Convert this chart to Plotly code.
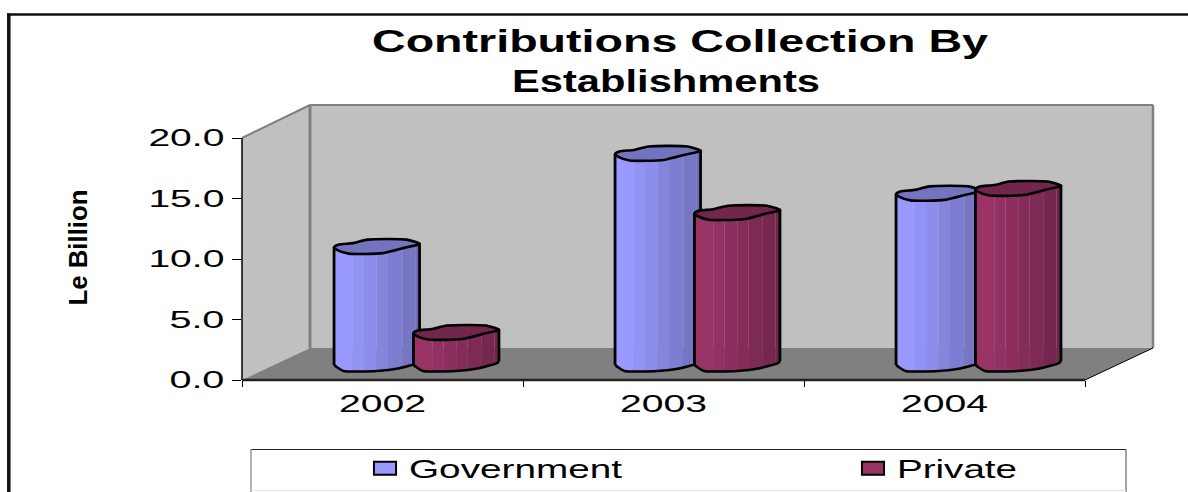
import json

import numpy as np
import plotly.graph_objects as go

# Chart content
title_lines = ["Contributions Collection By", "Establishments"]
axis_title = "Le Billion"
categories = ["2002", "2003", "2004"]
government = [9.7, 17.4, 14.1]
private = [2.6, 12.5, 14.5]
value_ticks = [0, 5, 10, 15, 20]
value_labels = ["0.0", "5.0", "10.0", "15.0", "20.0"]

# Page geometry, in pixels
W, H = 1188, 492
FRONT_L, FRONT_R, FRONT_Y, TOP20_Y = 242, 1085, 380, 138
DEPTH_X, DEPTH_Y = 68, 32
PX_PER_CAT = (FRONT_R - FRONT_L) / 3
PX_PER_UNIT = (FRONT_Y - TOP20_Y) / 20
BACK_TOP = 105
PLOT_R = FRONT_R + DEPTH_X


def px(x):
    return x / W


def py(y):
    return 1 - y / H


def polygon(points, fill, line=None, width=0):
    path = "M" + "L".join(f"{px(x):.5f},{py(y):.5f}" for x, y in points) + "Z"
    return dict(type="path", xref="paper", yref="paper", path=path, fillcolor=fill,
                line=dict(color=line or fill, width=width), layer="below")


def segment(x0, y0, x1, y1, color, width):
    return dict(type="line", xref="paper", yref="paper", x0=px(x0), y0=py(y0),
                x1=px(x1), y1=py(y1), line=dict(color=color, width=width), layer="below")


# Cylinder cross-section: u runs across the width, v is a pixel offset
TOP_LOWER_U, TOP_LOWER_V = [0, .04, .17, .57, .83, 1], [.5, 3.5, 7, 6.5, 1, -2.5]
TOP_UPPER_U, TOP_UPPER_V = [1, .85, .39, .22, .05, 0], [-3, -7, -7, -3.5, -2, .5]
BASE_U, BASE_V = [0, .04, .11, .5, .75, .98, 1], [1, 3.5, 7, 7, 4.5, -1, -3]
STRIP_EDGES = [0, .22, .35, .5, .63, .8, .95, 1]
STRIP_SHADES = [1, .96, .92, .87, .82, .77, .72]
CYL_WIDTH, CYL_OFFSET = 85.5, 39.7
OUTLINE = dict(color="black", width=2.8)
ROUNDED = dict(color="black", width=2.6, shape="spline", smoothing=0.6)


def shade(rgb, k):
    return "rgb({},{},{})".format(*[round(c * k) for c in rgb])


def cylinder(category_index, value, side, rgb):
    """Traces for one cylinder, placed through the axis coordinates."""
    centre = category_index + (DEPTH_X / 2 + side * CYL_OFFSET) / PX_PER_CAT
    floor = DEPTH_Y / 2 / PX_PER_UNIT

    def xs(u):
        return [centre + (a - .5) * CYL_WIDTH / PX_PER_CAT for a in u]

    def ys(level, v):
        return [level + floor - b / PX_PER_UNIT for b in v]

    traces = []
    for i, k in enumerate(STRIP_SHADES):
        a, b = STRIP_EDGES[i], STRIP_EDGES[i + 1]
        knots = [a] + [u for u in BASE_U if a < u < b] + [b]
        base = np.interp(knots, BASE_U, BASE_V).tolist()
        top = np.interp([b, a], TOP_LOWER_U, TOP_LOWER_V).tolist()
        traces.append(go.Scatter(
            x=xs(knots) + xs([b, a]), y=ys(0, base) + ys(value, top),
            mode="lines", fill="toself", fillcolor=shade(rgb, k), line=dict(width=0),
            hoverinfo="skip", showlegend=False))
    # Straight sides, rounded base, then the top face
    for u0, v0, v1 in ((0, BASE_V[0], .5), (1, BASE_V[-1], -3)):
        traces.append(go.Scatter(
            x=xs([u0, u0]), y=ys(0, [v0]) + ys(value, [v1]),
            mode="lines", line=OUTLINE, hoverinfo="skip", showlegend=False))
    traces.append(go.Scatter(
        x=xs(BASE_U), y=ys(0, BASE_V),
        mode="lines", line=ROUNDED, hoverinfo="skip", showlegend=False))
    traces.append(go.Scatter(
        x=xs(TOP_LOWER_U) + xs(TOP_UPPER_U), y=ys(value, TOP_LOWER_V) + ys(value, TOP_UPPER_V),
        mode="lines", fill="toself", fillcolor=shade(rgb, .75),
        line=ROUNDED, hoverinfo="skip", showlegend=False))
    return traces


GOV_RGB, PRI_RGB = (153, 153, 255), (153, 51, 102)
fig = go.Figure()

# Legend entries
for name, rgb in (("Government", GOV_RGB), ("Private", PRI_RGB)):
    fig.add_trace(go.Scatter(x=[None], y=[None], name=name, mode="markers",
                             marker=dict(symbol="square", size=13, color=shade(rgb, 1),
                                         line=dict(color="black", width=2))))

for i in range(len(categories)):
    for t in cylinder(i, government[i], -1, GOV_RGB) + cylinder(i, private[i], 1, PRI_RGB):
        fig.add_trace(t)

BACK_L, BACK_Y = FRONT_L + DEPTH_X, FRONT_Y - DEPTH_Y
GREY, WALL = "#808080", "#C0C0C0"
shapes = [
    # Walls and floor of the box
    polygon([(FRONT_L, TOP20_Y), (BACK_L, BACK_TOP), (BACK_L, BACK_Y), (FRONT_L, FRONT_Y)], WALL),
    polygon([(BACK_L, BACK_TOP), (PLOT_R, BACK_TOP), (PLOT_R, BACK_Y), (BACK_L, BACK_Y)], WALL),
    polygon([(FRONT_L, FRONT_Y), (BACK_L, BACK_Y), (PLOT_R, BACK_Y), (FRONT_R, FRONT_Y)], GREY),
    segment(FRONT_L, TOP20_Y, BACK_L, BACK_TOP, GREY, 2),
    segment(BACK_L, BACK_TOP, PLOT_R, BACK_TOP, GREY, 2),
    segment(BACK_L, BACK_TOP, BACK_L, BACK_Y, GREY, 3),
    segment(PLOT_R, BACK_TOP, PLOT_R, BACK_Y, GREY, 2.5),
    segment(FRONT_R, FRONT_Y, PLOT_R, BACK_Y, "black", 1),
    segment(FRONT_L, FRONT_Y, FRONT_L, TOP20_Y, "black", 1.5),
    segment(FRONT_L, FRONT_Y, FRONT_R, FRONT_Y, "#222222", 2.5),
    # Outer frame, running off the page on the right and bottom
    segment(7, 14.5, W, 14.5, "#111111", 2.5),
    segment(8.8, 13.5, 8.8, H, "#111111", 3.5),
    # Legend box
    segment(251, 449.5, 1126, 449.5, "#222222", 1.2),
    segment(251, 449, 251, H, "#808080", 1.2),
    segment(1126, 449, 1126, H, "#666666", 1.2),
    segment(251, 490.5, 1126, 490.5, "#E2E2E2", 1.2),
]

FONT = "Liberation Sans"
fig.update_layout(
    width=W, height=H, autosize=False,
    margin=dict(l=0, r=0, t=0, b=0, autoexpand=False),
    paper_bgcolor="white", plot_bgcolor="rgba(0,0,0,0)",
    shapes=shapes, hovermode=False,
    title=dict(text="<br>".join(title_lines), font=dict(family=FONT, size=31, color="black", weight="bold"),
               x=673 / W, xanchor="center", y=1 - 52 / H, yanchor="top"),
    xaxis=dict(domain=[FRONT_L / W, PLOT_R / W],
               range=[-.5, 2.5 + DEPTH_X / PX_PER_CAT], tickmode="array", tickvals=[0, 1, 2],
               ticktext=categories, ticks="", showgrid=False, zeroline=False, showline=False,
               tickfont=dict(family=FONT, size=23, color="black"), ticklabelstandoff=8,
               minor=dict(tickmode="array", tickvals=[-.5, .5, 1.5, 2.5], ticks="outside",
                          ticklen=6, tickwidth=1, tickcolor="black", showgrid=False)),
    yaxis=dict(domain=[1 - FRONT_Y / H, 1 - BACK_TOP / H],
               range=[0, (FRONT_Y - BACK_TOP) / PX_PER_UNIT], tickmode="array",
               tickvals=value_ticks, ticktext=value_labels, ticks="outside", ticklen=9,
               tickwidth=1.2, tickcolor="black", showgrid=False, zeroline=False, showline=False,
               tickfont=dict(family=FONT, size=23, color="black"), ticklabelstandoff=3,
               title=dict(text=axis_title, standoff=84,
                          font=dict(family=FONT, size=25, color="black", weight="bold"))),
    showlegend=True,
    legend=dict(orientation="h", x=px(365), xanchor="left", y=py(468.5), yanchor="middle",
                bgcolor="rgba(0,0,0,0)", borderwidth=0, entrywidth=443, entrywidthmode="pixels",
                font=dict(family=FONT, size=25, color="black"), itemclick=False, itemdoubleclick=False),
)

# The artwork's type is stretched sideways: fit each text run to its width.
text_widths = {"Contributions Collection By": [616, 7], "Establishments": [308, -7],
               "Government": [213, 4], "Private": [120, 4], axis_title: [116, -5],
               "2002": [87, 0], "2003": [87, 0], "2004": [87, 0],
               "20.0": [76, 0], "15.0": [76, 0], "10.0": [76, 0], "5.0": [55, 0], "0.0": [55, 0]}
post = """
var widths = %s;
document.querySelectorAll('svg text, svg tspan.line').forEach(function (el) {
  if (el.tagName === 'text' && el.querySelector('tspan.line')) return;
  var w = widths[el.textContent.trim()];
  if (!w) return;
  el.setAttribute('textLength', w[0]);
  el.setAttribute('lengthAdjust', 'spacingAndGlyphs');
  if (w[1]) el.setAttribute('x', parseFloat(el.getAttribute('x')) + w[1]);
});
document.querySelectorAll('.legendpoints path.scatterpts').forEach(function (el) {
  el.setAttribute('transform', (el.getAttribute('transform') || '') + ' scale(1.7,1)');
  el.style.vectorEffect = 'non-scaling-stroke';
});
""" % json.dumps(text_widths)

fig.write_html("out.html", post_script=post, config=dict(displayModeBar=False))
